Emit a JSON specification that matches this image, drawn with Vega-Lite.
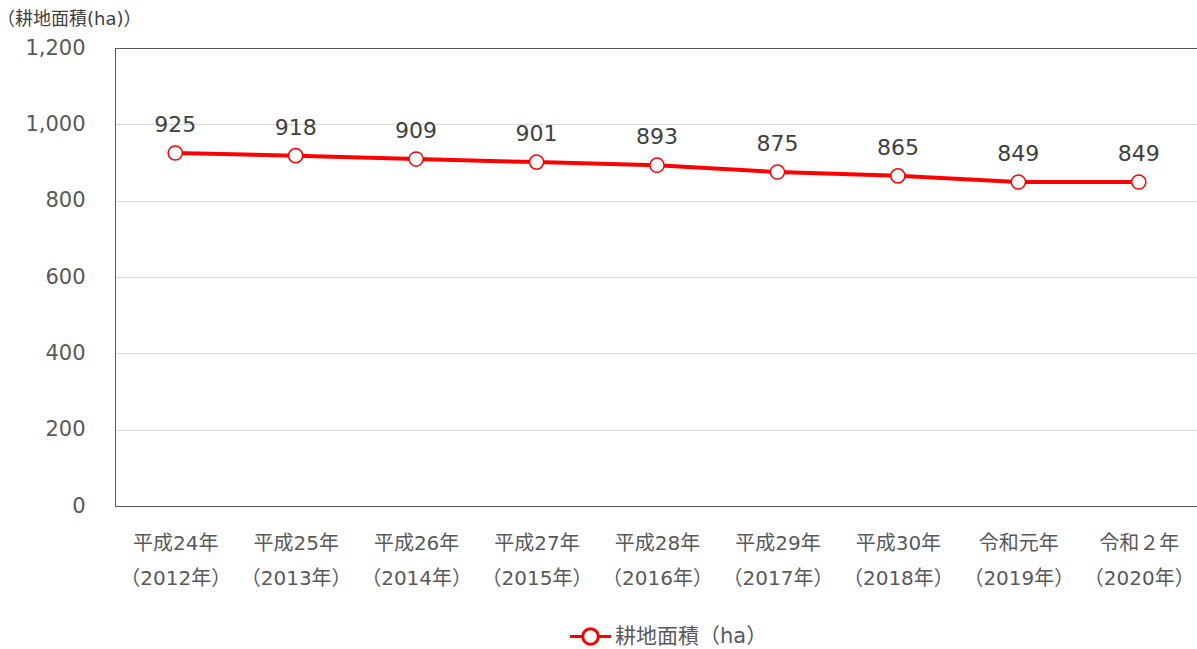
{
  "$schema": "https://vega.github.io/schema/vega-lite/v6.json",
  "width": 1084,
  "height": 458,
  "autosize": {"type": "none"},
  "padding": {"left": 115, "top": 48, "right": 0, "bottom": 143},
  "background": "white",
  "config": {
    "view": {"stroke": "#595959", "strokeWidth": 1},
    "font": "DejaVu Sans, Noto Sans CJK JP"
  },
  "title": {
    "text": "（耕地面積(ha)）",
    "anchor": "start",
    "frame": "group",
    "orient": "top",
    "offset": 8,
    "dx": -118,
    "fontSize": 18,
    "fontWeight": "normal",
    "color": "#404040",
    "font": "DejaVu Sans, Noto Sans CJK JP"
  },
  "data": {
    "values": [
      {"label": "平成24年|（2012年）", "area": 925, "series": "耕地面積（ha）"},
      {"label": "平成25年|（2013年）", "area": 918, "series": "耕地面積（ha）"},
      {"label": "平成26年|（2014年）", "area": 909, "series": "耕地面積（ha）"},
      {"label": "平成27年|（2015年）", "area": 901, "series": "耕地面積（ha）"},
      {"label": "平成28年|（2016年）", "area": 893, "series": "耕地面積（ha）"},
      {"label": "平成29年|（2017年）", "area": 875, "series": "耕地面積（ha）"},
      {"label": "平成30年|（2018年）", "area": 865, "series": "耕地面積（ha）"},
      {"label": "令和元年|（2019年）", "area": 849, "series": "耕地面積（ha）"},
      {"label": "令和２年|（2020年）", "area": 849, "series": "耕地面積（ha）"}
    ]
  },
  "encoding": {
    "x": {
      "field": "label",
      "type": "nominal",
      "sort": null,
      "scale": {"paddingInner": 0, "paddingOuter": 0},
      "axis": {
        "title": null,
        "labelAngle": 0,
        "labelExpr": "split(datum.label, '|')",
        "labelFontSize": 20,
        "labelLineHeight": 35,
        "labelColor": "#595959",
        "labelPadding": 27,
        "ticks": false,
        "domainColor": "#595959",
        "labelFont": "DejaVu Sans, Noto Sans CJK JP"
      }
    },
    "y": {
      "field": "area",
      "type": "quantitative",
      "scale": {"domain": [0, 1200]},
      "axis": {
        "title": null,
        "values": [0, 200, 400, 600, 800, 1000, 1200],
        "format": ",d",
        "ticks": false,
        "labelFontSize": 21,
        "labelColor": "#595959",
        "labelPadding": 30,
        "gridColor": {"condition": {"test": "datum.value == 1200", "value": "#595959"}, "value": "#d9d9d9"},
        "domainColor": "#595959"
      }
    }
  },
  "layer": [
    {
      "mark": {"type": "line", "color": "#ff0000", "strokeWidth": 4},
      "encoding": {
        "stroke": {
          "field": "series",
          "type": "nominal",
          "scale": {"range": ["#ff0000"]},
          "legend": {
            "title": null,
            "orient": "none",
            "legendX": 453,
            "legendY": 566,
            "symbolType": "M-1,0L-0.38,0M0.38,0L1,0M-0.38,0A0.38,0.38 0 1,1 0.38,0A0.38,0.38 0 1,1 -0.38,0",
            "symbolSize": 1700,
            "symbolStrokeWidth": 3,
            "symbolFillColor": "white",
            "symbolStrokeColor": "#ff0000",
            "labelFontSize": 21,
            "labelColor": "#595959",
            "labelFont": "DejaVu Sans, Noto Sans CJK JP",
            "labelOffset": 2
          }
        }
      }
    },
    {
      "mark": {"type": "point", "shape": "circle", "filled": true, "fill": "white", "stroke": "#ff0000", "strokeWidth": 1.5, "size": 200, "opacity": 1}
    },
    {
      "mark": {"type": "text", "dy": -28, "fontSize": 22, "color": "#404040", "baseline": "middle"},
      "encoding": {"text": {"field": "area", "type": "quantitative"}}
    }
  ]
}
